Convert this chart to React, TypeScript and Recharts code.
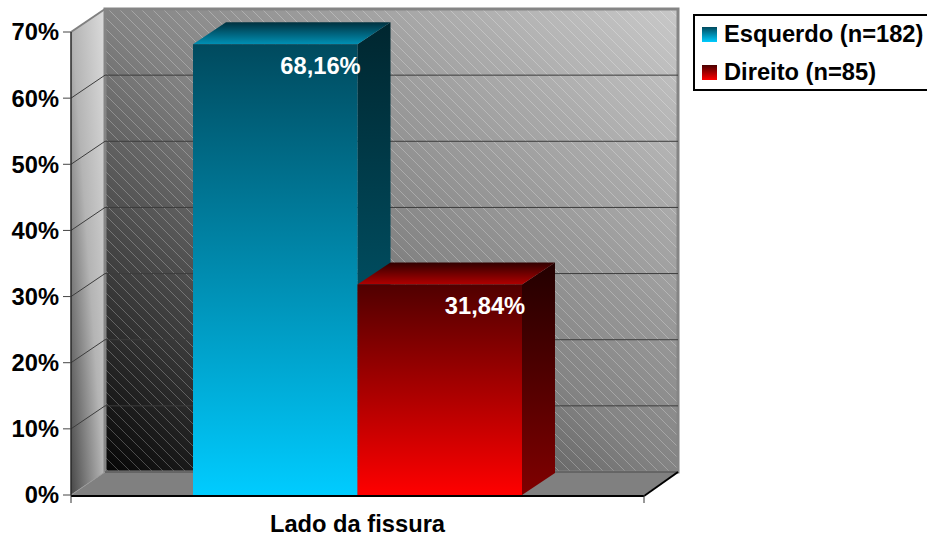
import React from 'react'
import { BarChart, Bar, XAxis, YAxis, CartesianGrid, Legend } from 'recharts'

const categories = ['Lado da fissura']
const esquerdoValues = [68.16]
const direitoValues = [31.84]
const yTicks = [0, 10, 20, 30, 40, 50, 60, 70]

const data = categories.map((category, i) => ({
    category,
    esquerdo: esquerdoValues[i],
    direito: direitoValues[i],
}))

const FONT = '"Liberation Sans", Arial, sans-serif'
const FONT_SIZE = 23.7
// plot area of the front plane
const PLOT = { left: 71, right: 644, top: 32, bottom: 495 }
// wall depth and bar depth of the fake 3D look
const DX = 34
const DY = 23
const BAR_DX = 33
const BAR_DY = 22

const Box3D = ({ x, y, width, height, id }: any) => {
    const r = x + width
    const b = y + height
    return (
        <g>
            <polygon
                points={`${r},${y} ${r + BAR_DX},${y - BAR_DY} ${r + BAR_DX},${b - BAR_DY} ${r},${b}`}
                fill={`url(#${id}Side)`}
            />
            <polygon
                points={`${x},${y} ${r},${y} ${r + BAR_DX},${y - BAR_DY} ${x + BAR_DX},${y - BAR_DY}`}
                fill={`url(#${id}Top)`}
            />
            <rect x={x} y={y} width={width} height={height} fill={`url(#${id}Front)`} />
        </g>
    )
}

const ValueLabel = ({ x, y, value }: any) => (
    <text
        x={x + 127.5}
        y={y + 30}
        textAnchor="middle"
        fill="#fff"
        fontFamily={FONT}
        fontWeight="bold"
        fontSize={FONT_SIZE}
    >
        {String(value).replace('.', ',')}%
    </text>
)

const GridLine3D = ({ x1, x2, y1 }: any) => {
    if (y1 <= PLOT.top + 1 || y1 >= PLOT.bottom - 1) return <g />
    return (
        <polyline
            points={`${x1},${y1} ${x1 + DX},${y1 - DY} ${x2 + DX},${y1 - DY}`}
            fill="none"
            stroke="#3c3c3c"
            strokeWidth={1}
        />
    )
}

const CategoryTick = ({ x, payload }: any) => (
    <g>
        <line x1={PLOT.left} x2={PLOT.left} y1={PLOT.bottom} y2={PLOT.bottom + 8} stroke="#333" />
        <line x1={PLOT.right} x2={PLOT.right} y1={PLOT.bottom} y2={PLOT.bottom + 8} stroke="#333" />
        <text
            x={x}
            y={532}
            textAnchor="middle"
            fill="#000"
            fontFamily={FONT}
            fontWeight="bold"
            fontSize={FONT_SIZE}
        >
            {payload.value}
        </text>
    </g>
)

const swatches: Record<string, string> = {
    esquerdo: 'linear-gradient(#004a5e, #00ccff)',
    direito: 'linear-gradient(#4a0000, #ff0000)',
}

const ChartLegend = ({ payload }: any) => (
    <div
        style={{
            boxSizing: 'border-box',
            width: 250,
            height: 77,
            border: '2.5px solid #000',
            background: '#fff',
            fontFamily: FONT,
            fontWeight: 'bold',
            fontSize: FONT_SIZE,
            color: '#000',
        }}
    >
        {(payload || []).map((entry: any, i: number) => (
            <div
                key={entry.dataKey}
                style={{
                    position: 'absolute',
                    left: 9,
                    top: i === 0 ? 6 : 44,
                    display: 'flex',
                    alignItems: 'center',
                    whiteSpace: 'nowrap',
                    height: 28,
                }}
            >
                <span
                    style={{
                        width: 15,
                        height: 15,
                        marginRight: 7,
                        background: swatches[entry.dataKey],
                    }}
                />
                {entry.value}
            </div>
        ))}
    </div>
)

const Gradient = ({ id, from, to }: any) => (
    <linearGradient id={id} x1="0" y1="0" x2="0" y2="1">
        <stop offset="0%" stopColor={from} />
        <stop offset="100%" stopColor={to} />
    </linearGradient>
)

// walls and floor sit in their own svg under the transparent chart
const Walls = () => {
    const { left, right, top, bottom } = PLOT
    return (
        <svg width={927} height={535} style={{ position: 'absolute', left: 0, top: 0 }}>
            <defs>
                <linearGradient id="backWall" x1="0" y1="1" x2="1" y2="0">
                    <stop offset="0%" stopColor="#050505" />
                    <stop offset="50%" stopColor="#848484" />
                    <stop offset="100%" stopColor="#c8c8c8" />
                </linearGradient>
                <linearGradient id="sideWall" x1="0" y1="1" x2="1" y2="0">
                    <stop offset="0%" stopColor="#484848" />
                    <stop offset="50%" stopColor="#b4b4b4" />
                    <stop offset="100%" stopColor="#dcdcdc" />
                </linearGradient>
                <pattern id="hatch" patternUnits="userSpaceOnUse" width="11" height="11">
                    <path d="M-1,-1 L12,12 M-1,10 L1,12 M10,-1 L12,1" stroke="#fff" strokeOpacity={0.25} strokeWidth={1} />
                </pattern>
            </defs>
            <polygon
                points={`${left},${top} ${left + DX},${top - DY} ${left + DX},${bottom - DY} ${left},${bottom}`}
                fill="url(#sideWall)"
            />
            <polyline
                points={`${left},${top} ${left + DX},${top - DY}`}
                fill="none"
                stroke="#808080"
                strokeWidth={2}
            />
            <rect x={left + DX} y={top - DY} width={right - left} height={bottom - top} fill="url(#backWall)" />
            <rect x={left + DX} y={top - DY} width={right - left} height={bottom - top} fill="url(#hatch)" stroke="#858585" strokeWidth={3} />
            <polygon
                points={`${left},${bottom} ${right},${bottom} ${right + DX},${bottom - DY} ${left + DX},${bottom - DY}`}
                fill="#808080"
            />
            <line x1={left + DX} x2={right + DX} y1={bottom - DY} y2={bottom - DY} stroke="#5c5c5c" strokeWidth={1.5} />
            <line x1={left} x2={left + DX} y1={bottom} y2={bottom - DY} stroke="#9a9a9a" strokeWidth={1} />
        </svg>
    )
}

export default function App() {
    const { left, right, top, bottom } = PLOT
    return (
        <div style={{ position: 'absolute', left: 0, top: 0, width: 927, height: 535, overflow: 'hidden', background: '#fff' }}>
            <Walls />
            <BarChart
                width={927}
                height={535}
                data={data}
                margin={{ top, right: 927 - right, bottom: 0, left: 0 }}
                barSize={164.5}
                barGap={0}
            >
                <defs>
                    <Gradient id="blueFront" from="#004a5e" to="#00ccff" />
                    <Gradient id="blueTop" from="#00303e" to="#0090b4" />
                    <Gradient id="blueSide" from="#00262f" to="#006a84" />
                    <Gradient id="redFront" from="#500000" to="#ff0000" />
                    <Gradient id="redTop" from="#300000" to="#b00000" />
                    <Gradient id="redSide" from="#220000" to="#800000" />
                </defs>

                <CartesianGrid vertical={false} horizontal={(props: any) => <GridLine3D {...props} />} />
                <XAxis
                    dataKey="category"
                    height={40}
                    axisLine={false}
                    tickLine={false}
                    tick={(props: any) => <CategoryTick {...props} />}
                />
                <YAxis
                    domain={[0, 70]}
                    ticks={yTicks}
                    width={71}
                    interval={0}
                    tickFormatter={(v: number) => `${v}%`}
                    tickSize={8}
                    tickMargin={4}
                    axisLine={{ stroke: '#2a2a2a', strokeWidth: 1.5 }}
                    tickLine={{ stroke: '#444' }}
                    tick={{ fill: '#000', fontFamily: FONT, fontWeight: 'bold', fontSize: FONT_SIZE }}
                />
                <Legend
                    verticalAlign="middle"
                    align="center"
                    layout="vertical"
                    itemSorter={null}
                    wrapperStyle={{ left: 693, top: 14, width: 250, height: 77 }}
                    content={(props: any) => <ChartLegend {...props} />}
                />
                <Bar
                    dataKey="esquerdo"
                    name="Esquerdo (n=182)"
                    fill="#00ccff"
                    isAnimationActive={false}
                    shape={(props: any) => <Box3D {...props} id="blue" />}
                    label={(props: any) => <ValueLabel {...props} />}
                />
                <Bar
                    dataKey="direito"
                    name="Direito (n=85)"
                    fill="#ff0000"
                    isAnimationActive={false}
                    shape={(props: any) => <Box3D {...props} id="red" />}
                    label={(props: any) => <ValueLabel {...props} />}
                />

                <line x1={left} x2={right} y1={bottom + 1} y2={bottom + 1} stroke="#000" strokeWidth={2} />
                <line x1={right} x2={right + DX} y1={bottom + 1} y2={bottom - DY} stroke="#000" strokeWidth={2} />
            </BarChart>
        </div>
    )
}
